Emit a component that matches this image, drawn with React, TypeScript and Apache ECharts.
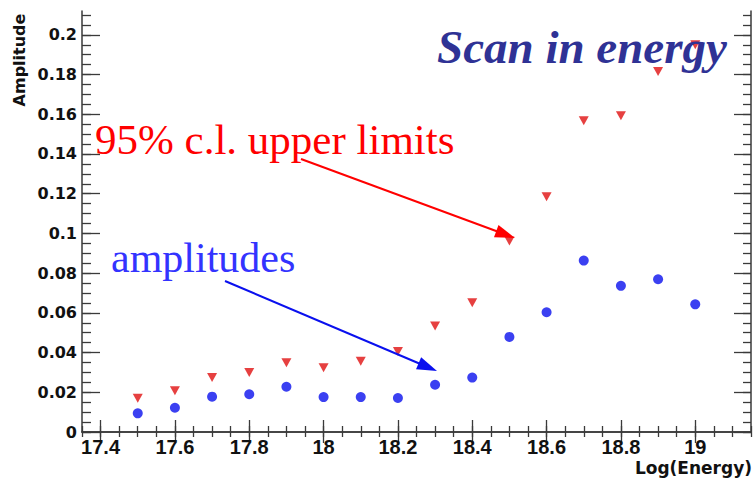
import React, { useEffect, useRef } from "react";
import * as echarts from "echarts";

// ---- data ----
const xTickLabels = [17.4, 17.6, 17.8, 18, 18.2, 18.4, 18.6, 18.8, 19];
const yTickLabels = [0, 0.02, 0.04, 0.06, 0.08, 0.1, 0.12, 0.14, 0.16, 0.18, 0.2];
const energies = [17.5, 17.6, 17.7, 17.8, 17.9, 18.0, 18.1, 18.2, 18.3, 18.4, 18.5, 18.6, 18.7, 18.8, 18.9, 19.0];
const amplitudes = [0.0094, 0.0122, 0.0178, 0.019, 0.0228, 0.0176, 0.0176, 0.0171, 0.0238, 0.0274, 0.0479, 0.0603, 0.0863, 0.0736, 0.0769, 0.0643];
const upperLimits = [0.017, 0.0208, 0.0274, 0.0299, 0.0349, 0.0324, 0.0356, 0.0405, 0.0534, 0.0651, 0.0962, 0.1185, 0.1567, 0.1592, 0.1815, 0.195];

const X_MIN = 17.35;
const X_MAX = 19.15;
const Y_MIN = 0;
const Y_MAX = 0.212;

function steps(start: number, end: number, step: number): number[] {
  const out: number[] = [];
  const n = Math.round((end - start) / step);
  for (let i = 0; i <= n; i++) out.push(+(start + i * step).toFixed(4));
  return out;
}
const xMinorTicks = steps(17.35, 19.15, 0.05);
const yMinorTicks = steps(0, 0.21, 0.005);

const FRAME = "#3a3a3a";
const GRID = { left: 82, top: 11, right: 4, bottom: 48 };

function xAxisDef(gridIndex: number, position: string, ticks: number[], len: number, labels: boolean, line: boolean) {
  return {
    type: "value",
    gridIndex,
    position,
    min: X_MIN,
    max: X_MAX,
    axisLine: { show: line, lineStyle: { color: FRAME, width: 1.5 } },
    splitLine: { show: false },
    axisTick: { show: true, inside: true, length: len, customValues: ticks, lineStyle: { color: FRAME, width: 1.3 } },
    axisLabel: labels
      ? { show: true, customValues: ticks, margin: 5, fontFamily: "Liberation Sans", fontWeight: "bold", fontSize: 20, color: "#111" }
      : { show: false },
  };
}
function yAxisDef(gridIndex: number, position: string, ticks: number[], len: number, labels: boolean, line: boolean) {
  return {
    type: "value",
    gridIndex,
    position,
    min: Y_MIN,
    max: Y_MAX,
    axisLine: { show: line, lineStyle: { color: FRAME, width: 1.5 } },
    splitLine: { show: false },
    axisTick: { show: true, inside: true, length: len, customValues: ticks, lineStyle: { color: FRAME, width: 1.3 } },
    axisLabel: labels
      ? { show: true, customValues: ticks, margin: 5, fontFamily: "DejaVu Sans", fontWeight: "bold", fontSize: 16, color: "#111" }
      : { show: false },
  };
}

function arrow(x1: number, y1: number, x2: number, y2: number, color: string) {
  const dx = x2 - x1;
  const dy = y2 - y1;
  const L = Math.hypot(dx, dy);
  const ux = dx / L;
  const uy = dy / L;
  const hl = 20;
  const hw = 6.5;
  const bx = x2 - ux * hl;
  const by = y2 - uy * hl;
  return [
    { type: "line", z: 100, shape: { x1, y1, x2: bx + ux * 2, y2: by + uy * 2 }, style: { stroke: color, lineWidth: 2 } },
    {
      type: "polygon",
      z: 100,
      shape: { points: [[x2, y2], [bx - uy * hw, by + ux * hw], [bx + uy * hw, by - ux * hw]] },
      style: { fill: color },
    },
  ];
}

export default function App() {
  const ref = useRef<HTMLDivElement>(null);
  useEffect(() => {
    if (!ref.current) return;
    const chart = echarts.init(ref.current, undefined, { renderer: "svg" });
    const option = {
      animation: false,
      backgroundColor: "#ffffff",
      grid: [
        { ...GRID, containLabel: false },
        { ...GRID, containLabel: false },
      ],
      xAxis: [
        xAxisDef(0, "bottom", xTickLabels, 12, true, true),
        xAxisDef(0, "top", xTickLabels, 11, false, true),
        xAxisDef(1, "bottom", xMinorTicks, 6, false, false),
        xAxisDef(1, "top", xMinorTicks, 5, false, false),
      ],
      yAxis: [
        yAxisDef(0, "left", yTickLabels, 18, true, true),
        yAxisDef(0, "right", yTickLabels, 17, false, true),
        yAxisDef(1, "left", yMinorTicks, 9, false, false),
        yAxisDef(1, "right", yMinorTicks, 8, false, false),
      ],
      series: [
        {
          name: "95% c.l. upper limits",
          type: "scatter",
          xAxisIndex: 0,
          yAxisIndex: 0,
          symbol: "triangle",
          symbolRotate: 180,
          symbolSize: [10, 9],
          itemStyle: { color: "#e01010" },
          data: energies.map((e, i) => [e, upperLimits[i]]),
        },
        {
          name: "amplitudes",
          type: "scatter",
          xAxisIndex: 0,
          yAxisIndex: 0,
          symbol: "circle",
          symbolSize: 10,
          itemStyle: { color: "#0a10ee" },
          data: energies.map((e, i) => [e, amplitudes[i]]),
        },
      ],
      graphic: [
        {
          type: "text",
          z: 100,
          x: 437,
          y: 47,
          style: {
            text: "Scan in energy",
            fontFamily: "Liberation Serif",
            fontStyle: "italic",
            fontWeight: "bold",
            fontSize: 47,
            fill: "#2f3295",
            align: "left",
            verticalAlign: "middle",
          },
        },
        {
          type: "text",
          z: 100,
          x: 95,
          y: 139,
          style: {
            text: "95% c.l. upper limits",
            fontFamily: "Liberation Serif",
            fontSize: 43,
            fill: "#ff0000",
            align: "left",
            verticalAlign: "middle",
          },
        },
        {
          type: "text",
          z: 100,
          x: 111,
          y: 258,
          style: {
            text: "amplitudes",
            fontFamily: "Liberation Serif",
            fontSize: 42,
            fill: "#3333ff",
            align: "left",
            verticalAlign: "middle",
          },
        },
        {
          type: "text",
          z: 100,
          x: 752,
          y: 468,
          style: {
            text: "Log(Energy)",
            fontFamily: "DejaVu Sans",
            fontWeight: "bold",
            fontSize: 17,
            fill: "#111",
            align: "right",
            verticalAlign: "middle",
          },
        },
        {
          type: "text",
          z: 100,
          x: 19,
          y: 60,
          rotation: Math.PI / 2,
          style: {
            text: "Amplitude",
            fontFamily: "DejaVu Sans",
            fontWeight: "bold",
            fontSize: 16,
            fill: "#111",
            align: "center",
            verticalAlign: "middle",
          },
        },
        ...arrow(301, 159, 515, 238, "#ff0000"),
        ...arrow(225, 281, 437, 371, "#0a10ee"),
      ],
    };
    chart.setOption(option as any);
    return () => chart.dispose();
  }, []);
  return <div ref={ref} style={{ position: "absolute", left: 0, top: 0, width: 755, height: 480 }} />;
}
